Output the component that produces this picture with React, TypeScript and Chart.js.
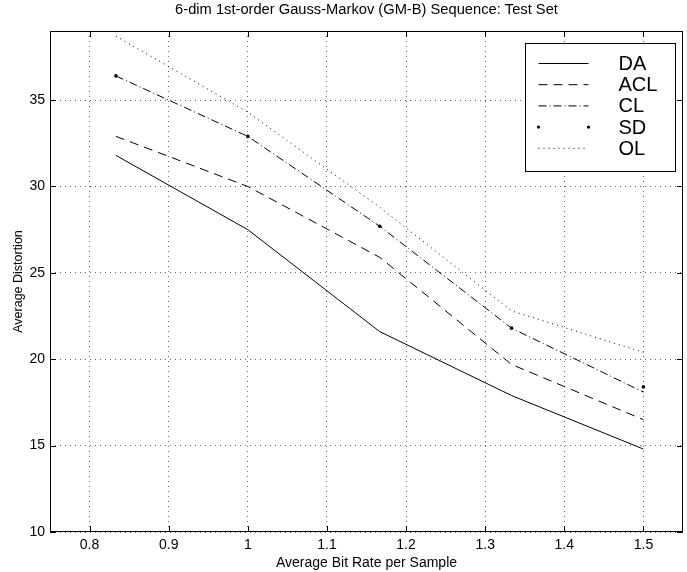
import React, { useEffect, useRef } from "react";
import { Chart, registerables } from "chart.js";

Chart.register(...registerables);

const TITLE = "6-dim 1st-order Gauss-Markov (GM-B) Sequence: Test Set";
const X_LABEL = "Average Bit Rate per Sample";
const Y_LABEL = "Average Distortion";

const RATES = [0.8333, 1.0, 1.1667, 1.3333, 1.5];
const DA = [31.8, 27.5, 21.6, 17.9, 14.8];
const ACL = [32.9, 30.0, 25.9, 19.7, 16.5];
const CL = [36.4, 32.9, 27.7, 21.8, 18.1];
const SD = [36.4, 32.9, 27.7, 21.8, 18.4];
const OL = [38.7, 34.3, 28.8, 22.8, 20.4];

const X_TICKS = [0.8, 0.9, 1.0, 1.1, 1.2, 1.3, 1.4, 1.5];
const Y_TICKS = [10, 15, 20, 25, 30, 35];

const FONT = '"Liberation Sans", Arial, Helvetica, sans-serif';

const toPts = (ys: number[]) => RATES.map((x, i) => ({ x, y: ys[i] }));

const boxPlugin = {
  id: "matlabBox",
  afterDatasetsDraw(chart: any) {
    const { ctx, chartArea: a, scales } = chart;
    ctx.save();
    ctx.setLineDash([]);
    ctx.strokeStyle = "#000";
    ctx.lineWidth = 1;
    ctx.strokeRect(a.left + 0.5, a.top + 0.5, a.right - a.left - 1, a.bottom - a.top - 1);
    const tl = 6;
    ctx.beginPath();
    for (const v of X_TICKS) {
      const x = Math.round(scales.x.getPixelForValue(v)) + 0.5;
      ctx.moveTo(x, a.bottom);
      ctx.lineTo(x, a.bottom - tl);
      ctx.moveTo(x, a.top);
      ctx.lineTo(x, a.top + tl);
    }
    for (const v of Y_TICKS) {
      const y = Math.round(scales.y.getPixelForValue(v)) + 0.5;
      ctx.moveTo(a.left, y);
      ctx.lineTo(a.left + tl, y);
      ctx.moveTo(a.right, y);
      ctx.lineTo(a.right - tl, y);
    }
    ctx.stroke();

    // legend inside plot
    const w = 150;
    const h = 128;
    const x0 = Math.round(a.right - 158) + 0.5;
    const y0 = Math.round(a.top + 12) + 0.5;
    ctx.fillStyle = "#fff";
    ctx.fillRect(x0, y0, w, h);
    ctx.strokeStyle = "#000";
    ctx.strokeRect(x0, y0, w, h);
    const ds = chart.data.datasets;
    ctx.font = `20px ${FONT}`;
    ctx.textBaseline = "middle";
    ctx.textAlign = "left";
    ds.forEach((d: any, i: number) => {
      const y = y0 + 20 + i * 21.2;
      const xa = x0 + 13;
      const xb = x0 + 63;
      ctx.strokeStyle = "#000";
      ctx.fillStyle = "#000";
      ctx.lineWidth = 1;
      if (d.showLine === false) {
        ctx.beginPath();
        ctx.arc(xa, y, 1.6, 0, Math.PI * 2);
        ctx.arc(xb, y, 1.6, 0, Math.PI * 2);
        ctx.fill();
      } else {
        ctx.setLineDash(d.borderDash || []);
        ctx.beginPath();
        ctx.moveTo(xa, y);
        ctx.lineTo(xb, y);
        ctx.stroke();
        ctx.setLineDash([]);
      }
      ctx.fillText(d.label, x0 + 93, y + 1);
    });
    ctx.restore();
  },
};

export default function App() {
  const ref = useRef<HTMLCanvasElement>(null);
  useEffect(() => {
    if (!ref.current) return;
    Chart.defaults.font.family = FONT;
    const lineDs = (label: string, ys: number[], dash: number[]) => ({
      label,
      data: toPts(ys),
      borderColor: "#000",
      backgroundColor: "#000",
      borderWidth: 1,
      borderDash: dash,
      pointRadius: 0,
      fill: false,
      tension: 0,
    });
    const chart = new Chart(ref.current, {
      type: "line",
      data: {
        datasets: [
          lineDs("DA", DA, []),
          lineDs("ACL", ACL, [9, 6]),
          lineDs("CL", CL, [8, 3, 1, 3]),
          {
            label: "SD",
            data: toPts(SD),
            showLine: false,
            borderColor: "#000",
            backgroundColor: "#000",
            pointRadius: 1.8,
            pointBorderWidth: 0,
            pointBackgroundColor: "#000",
          },
          lineDs("OL", OL, [1, 4]),
        ] as any,
      },
      options: {
        responsive: false,
        animation: false,
        layout: { padding: { top: 0, left: 0, right: 2, bottom: 0 } },
        plugins: {
          legend: { display: false },
          tooltip: { enabled: false },
          title: { display: false },
        },
        scales: {
          x: {
            type: "linear",
            min: 0.75,
            max: 1.55,
            afterBuildTicks: (s: any) => {
              s.ticks = X_TICKS.map((v) => ({ value: v }));
            },
            afterFit: (s: any) => {
              s.height = 40;
            },
            ticks: {
              color: "#000",
              font: { size: 14, family: FONT },
              padding: 5,
              maxRotation: 0,
              autoSkip: false,
              callback: (v: any) => String(v),
            },
            grid: { color: "#666", lineWidth: 1, drawTicks: false },
            border: { display: false, dash: [1, 4] },
            title: {
              display: true,
              text: X_LABEL,
              color: "#000",
              font: { size: 14, family: FONT },
              padding: { top: 3.6, bottom: 0 },
            },
          },
          xTop: {
            type: "linear",
            position: "top",
            min: 0.75,
            max: 1.55,
            afterFit: (s: any) => {
              s.height = 31;
            },
            ticks: { display: false },
            grid: { display: false, drawTicks: false },
            border: { display: false },
            title: {
              display: true,
              text: TITLE,
              color: "#000",
              font: { size: 14.7, family: FONT },
              padding: { top: 1, bottom: 0 },
            },
          },
          y: {
            type: "linear",
            min: 10,
            max: 39,
            afterBuildTicks: (s: any) => {
              s.ticks = Y_TICKS.map((v) => ({ value: v }));
            },
            afterFit: (s: any) => {
              s.width = 50;
            },
            ticks: {
              color: "#000",
              font: { size: 14, family: FONT },
              padding: 5,
              autoSkip: false,
              callback: (v: any) => String(v),
            },
            grid: { color: "#666", lineWidth: 1, drawTicks: false },
            border: { display: false, dash: [1, 4] },
            title: {
              display: true,
              text: Y_LABEL,
              color: "#000",
              font: { size: 12.5, family: FONT },
              padding: { top: 11, bottom: 0 },
            },
          },
        },
      } as any,
      plugins: [boxPlugin],
    });
    return () => chart.destroy();
  }, []);
  return (
    <div style={{ position: "absolute", left: 0, top: 0, width: 687, height: 572, background: "#fff" }}>
      <canvas ref={ref} width={687} height={572} style={{ display: "block" }} />
    </div>
  );
}
